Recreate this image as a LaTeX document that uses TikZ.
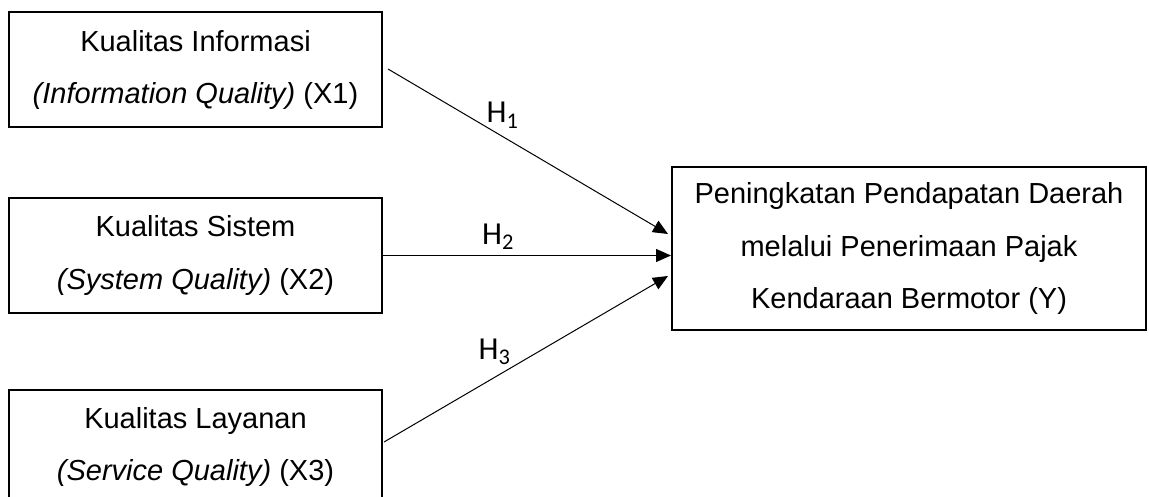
\documentclass[tikz,border=0pt]{standalone}
\usepackage{fontspec}
\setmainfont{Liberation Sans}
\newfontfamily\hfont{Carlito}
\usetikzlibrary{arrows.meta}
\usetikzlibrary{calc}
\newcommand\hyp[1]{{\hfont H\textsubscript{#1}}}
\tikzstyle{var}=[draw,line width=1pt,inner sep=0pt,align=center,font=\fontsize{14.5}{26.25}\selectfont]
\tikzstyle{varx}=[var,minimum width=186.5pt,minimum height=57.5pt]
\tikzstyle{vary}=[var,minimum width=237pt,minimum height=81.5pt]
\tikzstyle{hhead}=[>/.tip={Triangle[length=7.5pt,width=6.5pt]}]
\tikzstyle{hw}=[line width=.5pt,hhead,->]
\tikzstyle{hlab}=[font=\fontsize{16}{19}\selectfont,inner sep=2pt]

\begin{document}
\begin{tikzpicture}[x=.5pt,y=-.5pt]
	\useasboundingbox (0,0) rectangle (1149,497);
	\clip (0,0) rectangle (1149,497);
	\node[varx] (x1) at (195.5,70) {Kualitas Informasi\\\textit{(Information Quality)} (X1)};
	\node[varx] (x2) at (195.5,255.5) {Kualitas Sistem\\\textit{(System Quality)} (X2)};
	\node[varx] (x3) at (195.5,447) {Kualitas Layanan\\\textit{(Service Quality)} (X3)};
	\node[vary] (y) at (909,248.5) {Peningkatan Pendapatan Daerah\\melalui Penerimaan Pajak\\Kendaraan Bermotor (Y)};
	\coordinate (s1) at ($(x1.east)+(5,-1)$);
	\coordinate (s3) at ($(x3.east)+(1,-5)$);
	\coordinate (e1) at ($(y.west)+(-3,-14.5)$);
	\coordinate (e3) at ($(y.west)+(-3,27.5)$);
	\draw[hw] (s1) --node[hlab,pos=.41,above=2pt] {\hyp1} (e1);
	\draw[hw] (x2.east) --node[hlab,pos=.4,above=.5pt] {\hyp2} (x2.east -| y.west);
	\draw[hw] (s3) --node[hlab,pos=.39,above=4pt] {\hyp3} (e3);
\end{tikzpicture}
\end{document}
